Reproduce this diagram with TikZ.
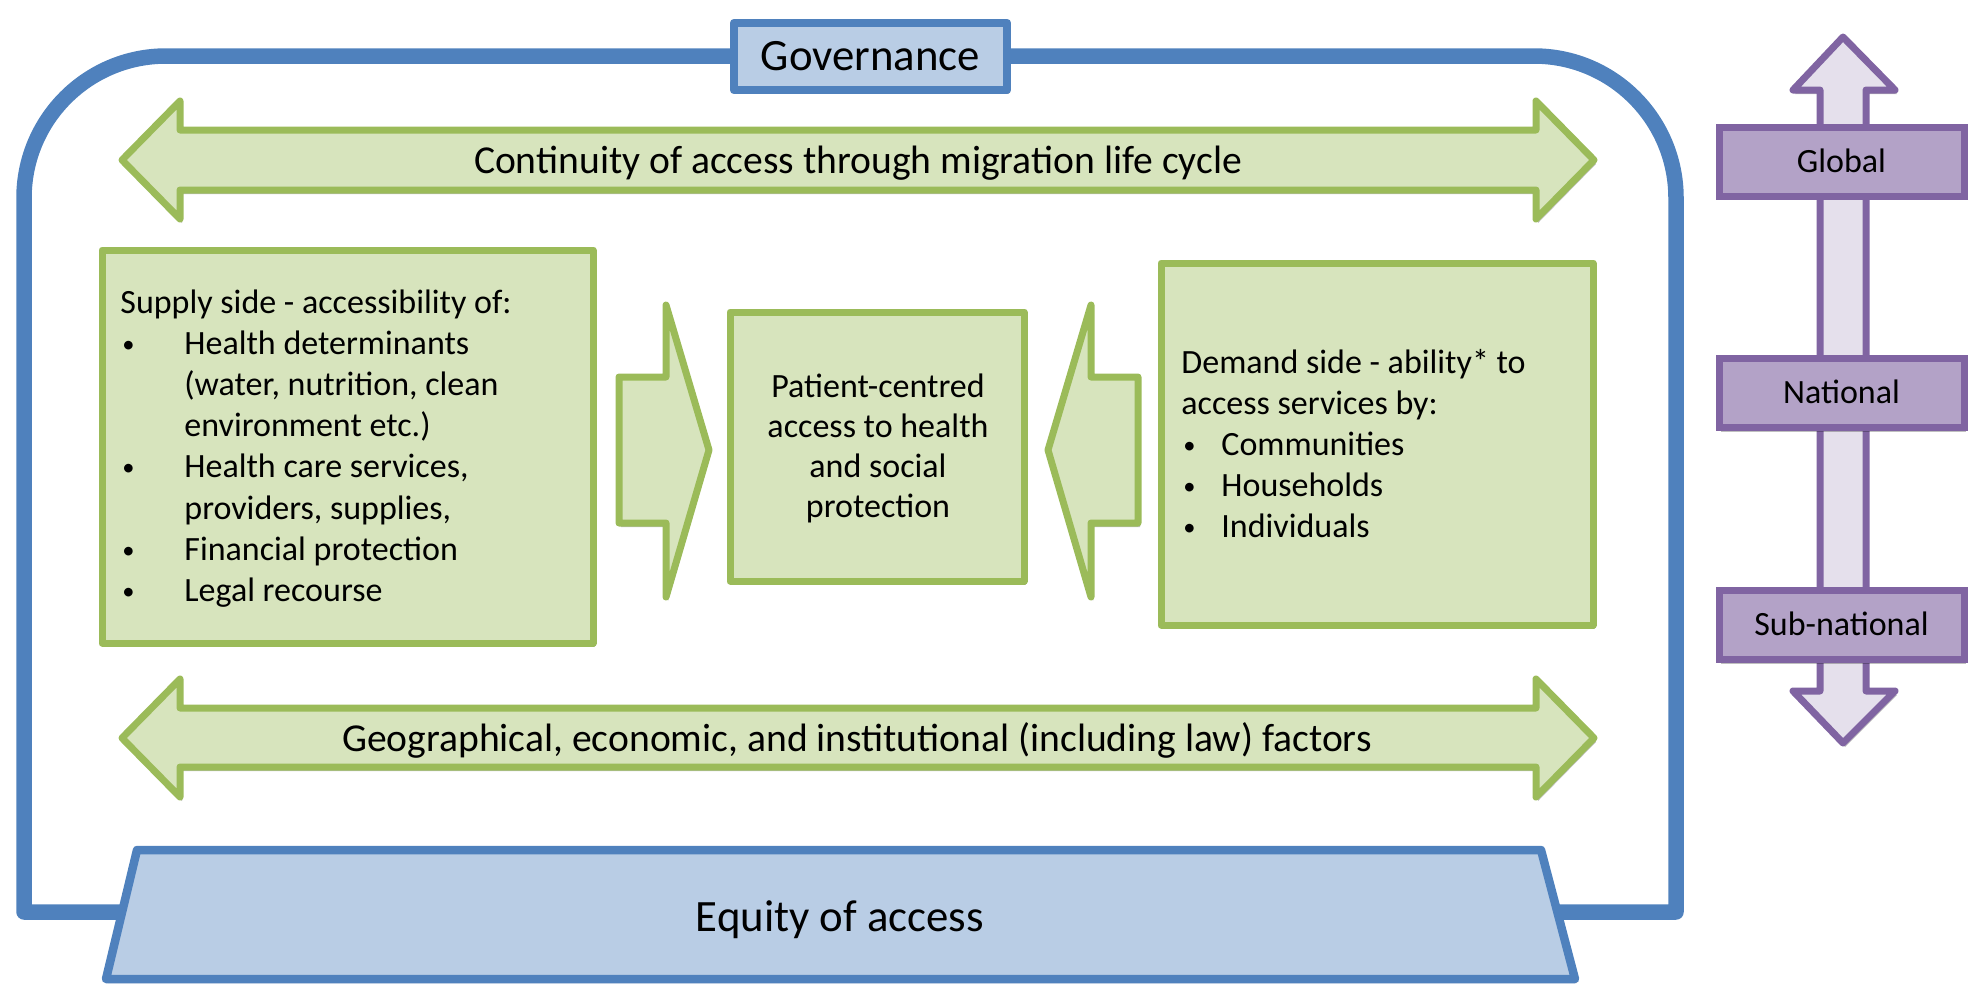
\documentclass[tikz,border=0pt]{standalone}
\usepackage{fontspec}
\setmainfont{Carlito}
\usetikzlibrary{shadows}
\definecolor{frameblue}{HTML}{4F81BD}
\definecolor{govfill}{HTML}{B9CDE5}
\definecolor{greenfill}{HTML}{D7E4BD}
\definecolor{greenline}{HTML}{9BBB59}
\definecolor{purplefill}{HTML}{B3A2C7}
\definecolor{purpleline}{HTML}{8064A2}
\definecolor{lavender}{HTML}{E5E0EC}
\newcommand\mybul{\hspace{1pt}\raisebox{1pt}{\scalebox{0.72}{•}}}
\begin{document}
\begin{tikzpicture}[x=0.5pt,y=0.5pt,
  shadowed/.style={drop shadow={shadow xshift=1pt,shadow yshift=-2pt,opacity=0.25,fill=black}},
  frameline/.style={draw=frameblue,line width=7.75pt,line join=round},
  blueshape/.style={draw=frameblue,fill=govfill,line width=4.25pt,line join=round,shadowed},
  greenshape/.style={draw=greenline,fill=greenfill,line width=3.5pt,line join=round,shadowed},
  greenbox/.style={greenshape,rectangle,inner sep=0pt},
  purpleshape/.style={draw=purpleline,fill=lavender,line width=3.5pt,line join=round,shadowed},
  purplebox/.style={draw=purpleline,fill=purplefill,line width=3.5pt,shadowed,rectangle,inner sep=0pt,
    minimum width=122.5pt,minimum height=34.5pt,font=\fontsize{17}{20.6}\selectfont,
    text height=10.95pt,text depth=0pt},
  bigtext/.style={font=\fontsize{22.4}{27}\selectfont,inner sep=0pt},
  arrowtext/.style={font=\fontsize{19.8}{24}\selectfont,inner sep=0pt,anchor=base},
  bodytext/.style={font=\fontsize{17}{20.6}\selectfont,inner sep=0pt}
]
\useasboundingbox (0,0) rectangle (1976,-993);

% outer governance frame
\draw[frameline] (24,-912) -- (24,-198) arc[start angle=180,end angle=90,radius=71pt]
  -- (1534,-56) arc[start angle=90,end angle=0,radius=71pt] -- (1676,-912) -- cycle;

% governance box
\node[blueshape,rectangle,inner sep=0pt,minimum width=136.5pt,minimum height=33.5pt,
  bigtext,text height=14.4pt,text depth=0pt] (gov) at (870.5,-56.5) {Governance};

% equity trapezoid
\draw[blueshape] (106,-979) -- (137,-850) -- (1541,-850) -- (1575,-979) -- cycle;
\node[bigtext,anchor=base] (equity) at (840,-931) {Equity of access};

% continuity double arrow
\draw[greenshape] (122,-160) -- (180,-101) -- (180,-130) -- (1536,-130) -- (1536,-101)
  -- (1594,-160) -- (1536,-219) -- (1536,-190) -- (180,-190) -- (180,-219) -- cycle;
\node[arrowtext] (cont) at (858,-173) {Continuity of access through migration life cycle};

% factors double arrow
\draw[greenshape] (122,-738) -- (180,-679) -- (180,-708) -- (1536,-708) -- (1536,-679)
  -- (1594,-738) -- (1536,-797) -- (1536,-767) -- (180,-767) -- (180,-797) -- cycle;
\node[arrowtext] (fact) at (857,-751) {Geographical, economic, and institutional (including law) factors};

% boxes
\node[greenbox,minimum width=245.5pt,minimum height=196.5pt] (supply) at (347.5,-446.5) {};
\node[greenbox,minimum width=147pt,minimum height=134.5pt] (patient) at (877,-446.5) {};
\node[greenbox,minimum width=216pt,minimum height=181pt] (demand) at (1377,-444) {};

% chevron arrows
\draw[greenshape] (619,-377) -- (666,-377) -- (666,-305) -- (709,-450) -- (666,-597)
  -- (666,-523) -- (619,-523) -- cycle;
\draw[greenshape] (1138,-377) -- (1091,-377) -- (1091,-305) -- (1048,-450) -- (1091,-597)
  -- (1091,-523) -- (1138,-523) -- cycle;

% texts in boxes
\node[bodytext,anchor=base west] (supplytxt) at (120,-313) {%
\begin{tabular}[t]{@{}p{32pt}@{}l@{}}
\multicolumn{2}{@{}l@{}}{Supply side - accessibility of:}\\
\mybul&Health determinants\\
&(water, nutrition, clean\\
&environment etc.)\\
\mybul&Health care services,\\
&providers, supplies,\\
\mybul&Financial protection\\
\mybul&Legal recourse
\end{tabular}};
\node[font=\fontsize{17}{20.15}\selectfont,inner sep=0pt,anchor=base] (patienttxt) at (878,-397) {%
\begin{tabular}[t]{@{}c@{}}
Patient-centred\\
access to health\\
and social\\
protection
\end{tabular}};
\node[bodytext,anchor=base west] (demandtxt) at (1181,-373) {%
\begin{tabular}[t]{@{}p{20pt}@{}l@{}}
\multicolumn{2}{@{}l@{}}{Demand side - ability* to}\\
\multicolumn{2}{@{}l@{}}{access services by:}\\
\mybul&Communities\\
\mybul&Households\\
\mybul&Individuals
\end{tabular}};

% levels arrow
\draw[purpleshape] (1843,-37) -- (1895,-90) -- (1866,-90) -- (1866,-691) -- (1895,-691)
  -- (1843,-743) -- (1793,-691) -- (1820,-691) -- (1820,-90) -- (1793,-90) -- cycle;
\node[purplebox] (global) at (1841.5,-161.5) {Global};
\node[purplebox] (national) at (1841.5,-393) {National};
\node[purplebox] (subnational) at (1841.5,-625) {Sub-national};
\end{tikzpicture}
\end{document}
